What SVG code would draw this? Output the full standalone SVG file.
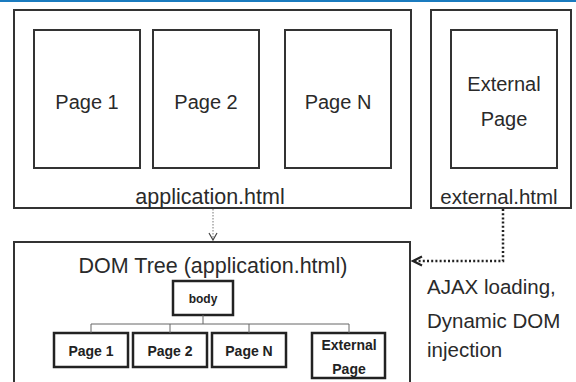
<svg xmlns="http://www.w3.org/2000/svg" width="576" height="382" viewBox="0 0 576 382">
<defs>
<style>
.frame{fill:#fff;stroke:#333;stroke-width:2}
.tree{fill:#fff;stroke:#222;stroke-width:2.5}
.t{font-family:"Liberation Sans",Arial,sans-serif;font-size:20px;fill:#2a2a2a;text-anchor:middle}
.lbl{font-family:"Liberation Sans",Arial,sans-serif;font-size:20.5px;fill:#2a2a2a}
.b{font-family:"Liberation Sans",Arial,sans-serif;font-size:14px;font-weight:bold;fill:#222;text-anchor:middle}
.link{fill:none;stroke:#666;stroke-width:1}
</style>
<marker id="thin" markerWidth="10" markerHeight="10" refX="8" refY="5" orient="auto" markerUnits="userSpaceOnUse">
<path d="M1,1 L8,5 L1,9" fill="none" stroke="#444" stroke-width="1.2"/>
</marker>
<marker id="thick" markerWidth="12" markerHeight="12" refX="10" refY="6" orient="auto" markerUnits="userSpaceOnUse">
<path d="M1,1.5 L10,6 L1,10.5" fill="none" stroke="#222" stroke-width="2.2"/>
</marker>
</defs>
<rect x="0" y="0" width="576" height="382" fill="#fff"/>
<rect x="0" y="0" width="576" height="2" fill="#1a7bbf"/>

<g id="application">
<rect class="frame" x="14" y="10" width="397" height="198"/>
<text class="t" x="210" y="204" style="font-size:21.5px">application.html</text>
</g>
<g id="page1">
<rect class="frame" x="34" y="30" width="106" height="138"/>
<text class="t" x="87" y="109">Page 1</text>
</g>
<g id="page2">
<rect class="frame" x="153" y="30" width="106" height="138"/>
<text class="t" x="206" y="109">Page 2</text>
</g>
<g id="pageN">
<rect class="frame" x="285" y="30" width="106" height="138"/>
<text class="t" x="338" y="109">Page N</text>
</g>
<g id="external">
<rect class="frame" x="431" y="10" width="140" height="198"/>
<text class="t" x="499" y="204" style="font-size:20.5px">external.html</text>
</g>
<g id="externalPage">
<rect class="frame" x="451" y="30" width="106" height="138"/>
<text class="t" x="504" y="91">External</text>
<text class="t" x="504" y="126">Page</text>
</g>

<g id="domtree">
<rect class="frame" x="14" y="242" width="396" height="150"/>
<text class="t" x="213" y="273" style="font-size:21.5px">DOM Tree (application.html)</text>
</g>
<g id="body">
<rect class="tree" x="173" y="281" width="60" height="34"/>
<text class="b" x="203" y="303" style="font-size:12px">body</text>
</g>
<g id="dpage1">
<rect class="tree" x="54" y="333" width="74" height="34"/>
<text class="b" x="91" y="356">Page 1</text>
</g>
<g id="dpage2">
<rect class="tree" x="133" y="333" width="74" height="34"/>
<text class="b" x="170" y="356">Page 2</text>
</g>
<g id="dpageN">
<rect class="tree" x="212" y="333" width="74" height="34"/>
<text class="b" x="249" y="356">Page N</text>
</g>
<g id="dexternal">
<rect class="tree" x="312" y="333" width="73" height="45"/>
<text class="b" x="349" y="350">External</text>
<text class="b" x="349" y="374">Page</text>
</g>

<g id="connectors">
<path class="link" d="M203,315 V324 M91,324 H349 M91,324 V333 M170,324 V333 M249,324 V333 M349,324 V333"/>
<path d="M213,209 V240" fill="none" stroke="#777" stroke-width="1" stroke-dasharray="1.5,1.5" marker-end="url(#thin)"/>
<path d="M503,209 V261 H413" fill="none" stroke="#222" stroke-width="2.5" stroke-dasharray="2,2.2" marker-end="url(#thick)"/>
</g>

<g id="note">
<text class="lbl" x="427" y="294">AJAX loading,</text>
<text class="lbl" x="427" y="328">Dynamic DOM</text>
<text class="lbl" x="427" y="357">injection</text>
</g>
</svg>
